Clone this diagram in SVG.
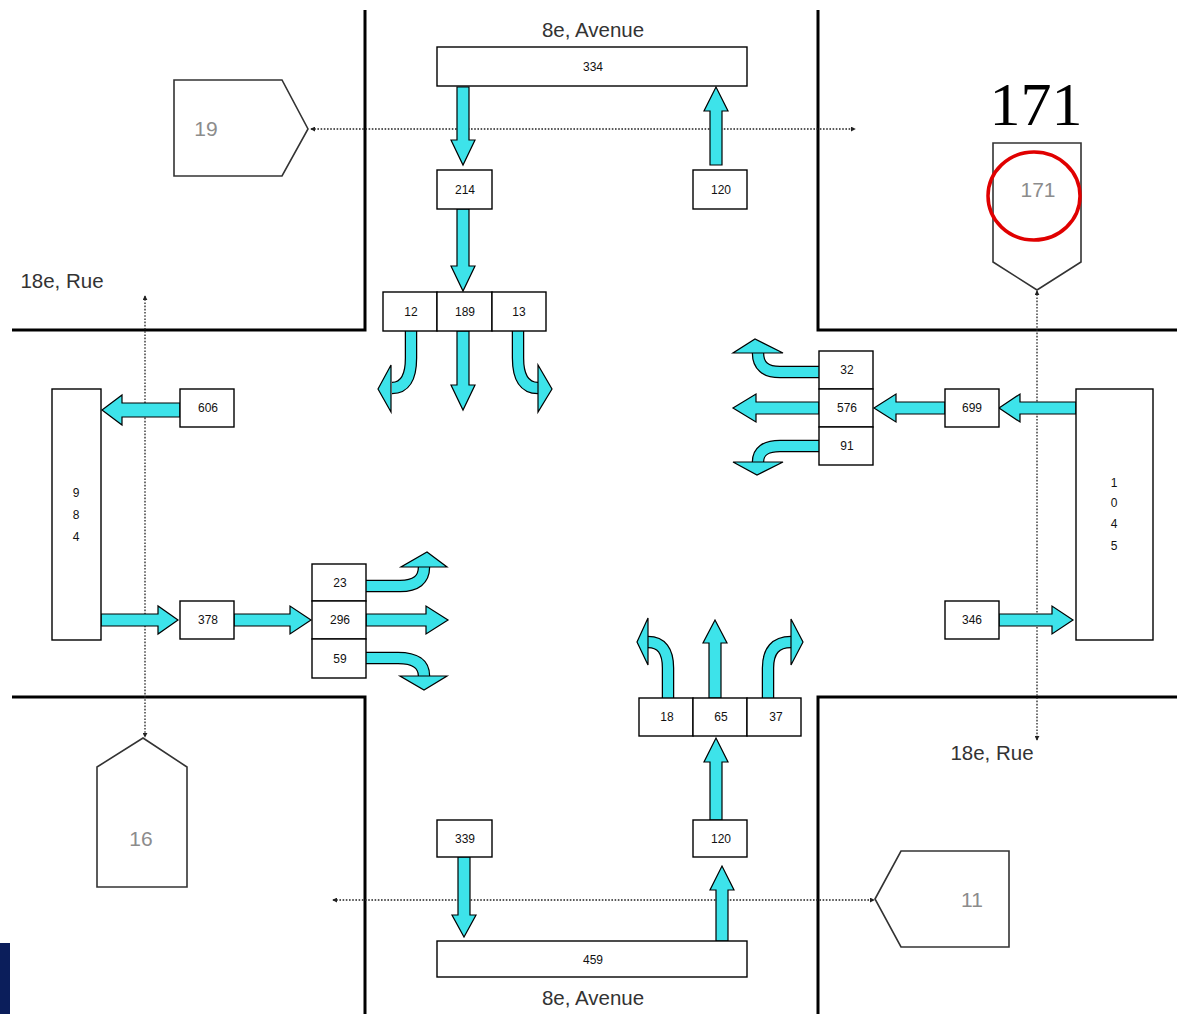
<svg xmlns="http://www.w3.org/2000/svg" width="1177" height="1014" viewBox="0 0 1177 1014">
<style>
.road{stroke:#000;stroke-width:3;fill:none}
.box{fill:#fff;stroke:#000;stroke-width:1.4}
.lbl{font-family:"Liberation Sans",Arial,sans-serif;font-size:12px;fill:#111;text-anchor:middle}
.street{font-family:"Liberation Sans",Arial,sans-serif;font-size:20.5px;fill:#333;text-anchor:middle}
.pent{fill:#fff;stroke:#333;stroke-width:1.6}
.plbl{font-family:"Liberation Sans",Arial,sans-serif;font-size:21px;fill:#8c8c8c;text-anchor:middle}
.arr{fill:#3de3ea;stroke:#000;stroke-width:1.2;stroke-linejoin:miter}
.sh-o{fill:none;stroke:#000;stroke-width:12.5}
.sh-i{fill:none;stroke:#3de3ea;stroke-width:10}
.dot{fill:none;stroke:#222;stroke-width:1.3;stroke-dasharray:1.6 1.6}
</style>
<defs>
<marker id="dh" viewBox="0 0 6 6" refX="5" refY="3" markerWidth="5" markerHeight="5" orient="auto-start-reverse" markerUnits="userSpaceOnUse"><path d="M0,0 L6,3 L0,6 z" fill="#222"/></marker>
</defs>

<g id="roads">
<path class="road" d="M365,10 V330 H12"/>
<path class="road" d="M818,10 V330 H1177"/>
<path class="road" d="M12,697 H365 V1014"/>
<path class="road" d="M1177,697 H818 V1014"/>
</g>

<g id="streets">
<text class="street" x="593" y="37">8e, Avenue</text>
<text class="street" x="593" y="1005">8e, Avenue</text>
<text class="street" x="62" y="288">18e, Rue</text>
<text class="street" x="992" y="760">18e, Rue</text>
</g>

<g id="connectors">
<path class="dot" d="M311,129 H855" marker-start="url(#dh)" marker-end="url(#dh)"/>
<path class="dot" d="M145,296 V737" marker-start="url(#dh)" marker-end="url(#dh)"/>
<path class="dot" d="M1037,291 V740" marker-start="url(#dh)" marker-end="url(#dh)"/>
<path class="dot" d="M333,900 H874" marker-start="url(#dh)" marker-end="url(#dh)"/>

<polygon class="arr" points="457,87 469,87 469,140 475,140 463,165 451,140 457,140"/>
<polygon class="arr" points="457,209 469,209 469,266 475,266 463,291 451,266 457,266"/>
<polygon class="arr" points="457,331 469,331 469,385 475,385 463,410 451,385 457,385"/>
<polygon class="arr" points="710,165 722,165 722,111 728,111 716,87 704,111 710,111"/>
<polygon class="arr" points="458,857 470,857 470,915 476,915 464,937 452,915 458,915"/>
<polygon class="arr" points="716,941 728,941 728,890 734,890 722,866 710,890 716,890"/>
<polygon class="arr" points="710,820 722,820 722,762 728,762 716,738 704,762 710,762"/>
<polygon class="arr" points="709,698 721,698 721,643 727,643 715,620 703,643 709,643"/>
<polygon class="arr" points="180,403 180,417 122,417 122,425 102,410 122,395 122,403"/>
<polygon class="arr" points="101,614 101,626 158,626 158,634 178,620 158,606 158,614"/>
<polygon class="arr" points="234,614 234,626 290,626 290,634 311,620 290,606 290,614"/>
<polygon class="arr" points="366,614 366,626 426,626 426,634 448,620 426,606 426,614"/>
<polygon class="arr" points="1076,402 1076,414 1020,414 1020,422 999,408 1020,394 1020,402"/>
<polygon class="arr" points="945,402 945,414 896,414 896,422 874,408 896,394 896,402"/>
<polygon class="arr" points="819,402 819,414 756,414 756,422 733,408 756,394 756,402"/>
<polygon class="arr" points="999,614 999,626 1052,626 1052,634 1073,620 1052,606 1052,614"/>

<g id="turn12"><path class="sh-o" d="M411,331 V358 Q411,388 392,388"/><path class="sh-i" d="M411,331 V358 Q411,388 392,388"/><polygon class="arr" points="391,365 391,412 378,389"/></g>
<g id="turn13"><path class="sh-o" d="M518,331 V358 Q518,388 538,388"/><path class="sh-i" d="M518,331 V358 Q518,388 538,388"/><polygon class="arr" points="538,365 538,412 552,389"/></g>
<g id="turn18"><path class="sh-o" d="M668,698 V668 Q668,642 648,642"/><path class="sh-i" d="M668,698 V668 Q668,642 648,642"/><polygon class="arr" points="648,618 648,665 637,642"/></g>
<g id="turn37"><path class="sh-o" d="M768,698 V668 Q768,642 791,642"/><path class="sh-i" d="M768,698 V668 Q768,642 791,642"/><polygon class="arr" points="791,619 791,665 803,642"/></g>
<g id="turn23"><path class="sh-o" d="M366,586 H400 Q424,586 424,567"/><path class="sh-i" d="M366,586 H400 Q424,586 424,567"/><polygon class="arr" points="401,567 447,567 427,552"/></g>
<g id="turn59"><path class="sh-o" d="M366,658 H398 Q424,658 424,676"/><path class="sh-i" d="M366,658 H398 Q424,658 424,676"/><polygon class="arr" points="400,676 447,676 424,690"/></g>
<g id="turn32"><path class="sh-o" d="M819,372 H780 Q758,372 758,353"/><path class="sh-i" d="M819,372 H780 Q758,372 758,353"/><polygon class="arr" points="733,353 783,353 755,339"/></g>
<g id="turn91"><path class="sh-o" d="M819,446 H780 Q758,446 758,462"/><path class="sh-i" d="M819,446 H780 Q758,446 758,462"/><polygon class="arr" points="733,462 783,462 757,475"/></g>
</g>

<g id="n334"><rect class="box" x="437" y="47" width="310" height="39"/><text class="lbl" x="593" y="71">334</text></g>
<g id="n214"><rect class="box" x="437" y="170" width="55" height="39"/><text class="lbl" x="465" y="194">214</text></g>
<g id="n120t"><rect class="box" x="693" y="170" width="54" height="39"/><text class="lbl" x="721" y="194">120</text></g>
<g id="n12"><rect class="box" x="383" y="292" width="54" height="39"/><text class="lbl" x="411" y="316">12</text></g>
<g id="n189"><rect class="box" x="437" y="292" width="55" height="39"/><text class="lbl" x="465" y="316">189</text></g>
<g id="n13"><rect class="box" x="492" y="292" width="54" height="39"/><text class="lbl" x="519" y="316">13</text></g>

<g id="n606"><rect class="box" x="180" y="389" width="54" height="38"/><text class="lbl" x="208" y="412">606</text></g>
<g id="n984"><rect class="box" x="52" y="389" width="49" height="251"/><text class="lbl" x="76" y="497">9</text><text class="lbl" x="76" y="519">8</text><text class="lbl" x="76" y="541">4</text></g>
<g id="n378"><rect class="box" x="180" y="601" width="54" height="38"/><text class="lbl" x="208" y="624">378</text></g>
<g id="n23"><rect class="box" x="312" y="564" width="54" height="37"/><text class="lbl" x="340" y="587">23</text></g>
<g id="n296"><rect class="box" x="312" y="601" width="54" height="38"/><text class="lbl" x="340" y="624">296</text></g>
<g id="n59"><rect class="box" x="312" y="639" width="54" height="39"/><text class="lbl" x="340" y="663">59</text></g>

<g id="n32"><rect class="box" x="819" y="351" width="54" height="38"/><text class="lbl" x="847" y="374">32</text></g>
<g id="n576"><rect class="box" x="819" y="389" width="54" height="38"/><text class="lbl" x="847" y="412">576</text></g>
<g id="n91"><rect class="box" x="819" y="427" width="54" height="38"/><text class="lbl" x="847" y="450">91</text></g>
<g id="n699"><rect class="box" x="945" y="389" width="54" height="38"/><text class="lbl" x="972" y="412">699</text></g>
<g id="n1045"><rect class="box" x="1076" y="389" width="77" height="251"/><text class="lbl" x="1114" y="487">1</text><text class="lbl" x="1114" y="507">0</text><text class="lbl" x="1114" y="528">4</text><text class="lbl" x="1114" y="550">5</text></g>
<g id="n346"><rect class="box" x="945" y="601" width="54" height="38"/><text class="lbl" x="972" y="624">346</text></g>

<g id="n18"><rect class="box" x="639" y="698" width="54" height="38"/><text class="lbl" x="667" y="721">18</text></g>
<g id="n65"><rect class="box" x="693" y="698" width="54" height="38"/><text class="lbl" x="721" y="721">65</text></g>
<g id="n37"><rect class="box" x="747" y="698" width="54" height="38"/><text class="lbl" x="776" y="721">37</text></g>
<g id="n120b"><rect class="box" x="693" y="820" width="54" height="37"/><text class="lbl" x="721" y="843">120</text></g>
<g id="n339"><rect class="box" x="437" y="820" width="55" height="37"/><text class="lbl" x="465" y="843">339</text></g>
<g id="n459"><rect class="box" x="437" y="941" width="310" height="36"/><text class="lbl" x="593" y="964">459</text></g>

<g id="p19"><polygon class="pent" points="174,80 282,80 308,129 282,176 174,176"/><text class="plbl" x="206" y="136">19</text></g>
<g id="p171"><polygon class="pent" points="993,143 1081,143 1081,262 1037,290 993,262"/><text class="plbl" x="1038" y="197">171</text></g>
<g id="p16"><polygon class="pent" points="143,738 187,767 187,887 97,887 97,767"/><text class="plbl" x="141" y="846">16</text></g>
<g id="p11"><polygon class="pent" points="875,899 901,851 1009,851 1009,947 901,947"/><text class="plbl" x="972" y="907">11</text></g>

<g id="highlight">
<text x="1036" y="125" font-family="'Liberation Serif','Times New Roman',serif" font-size="62" fill="#000" text-anchor="middle">171</text>
<ellipse cx="1034" cy="196" rx="46" ry="44" fill="none" stroke="#e00000" stroke-width="3.5"/>
</g>

<rect id="navybar" x="0" y="943" width="10" height="71" fill="#0b1e5b"/>
</svg>
